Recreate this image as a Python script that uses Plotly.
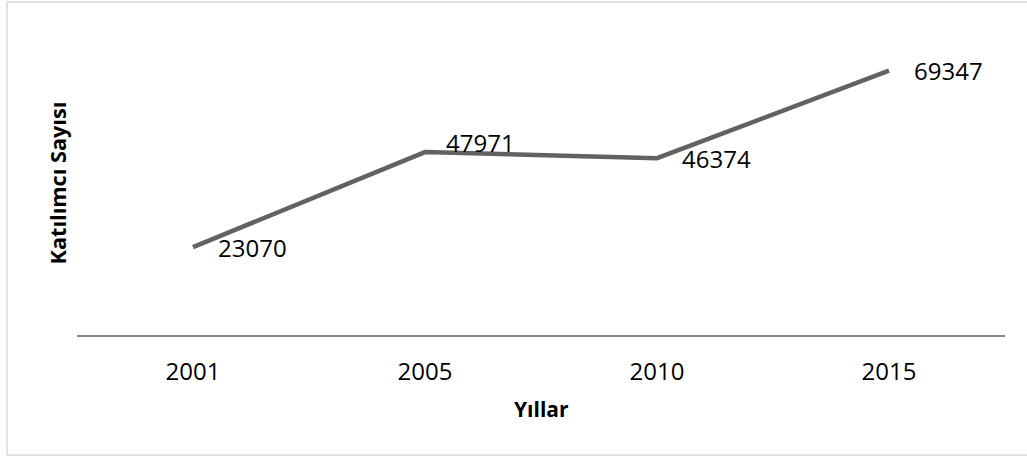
import plotly.graph_objects as go

years = ["2001", "2005", "2010", "2015"]
participants = [23070, 47971, 46374, 69347]
label_dx = [23, 19, 23, 23]
label_dy = [0, 10, 0, 0]

FONT = "Open Sans"

fig = go.Figure()
fig.add_trace(go.Scatter(
    x=years, y=participants, mode="lines",
    line=dict(color="#626262", width=4.5),
    hoverinfo="x+y", showlegend=False,
))

for i, (v, dx, dy) in enumerate(zip(participants, label_dx, label_dy)):
    fig.add_annotation(x=i, y=v, text=str(v), showarrow=False,
                       xanchor="left", yanchor="middle", xshift=dx, yshift=dy,
                       font=dict(family=FONT, size=24, color="#000000"))

fig.add_annotation(text="<b>Yıllar</b>", xref="paper", yref="paper", x=0.5, y=-0.243,
                   xanchor="center", yanchor="middle", showarrow=False,
                   font=dict(family=FONT, size=21, color="#000000"))
fig.add_annotation(text="<b>Katılımcı Sayısı</b>", xref="paper", yref="paper", x=-0.0205, y=0.5,
                   xanchor="center", yanchor="middle", showarrow=False, textangle=-90,
                   font=dict(family=FONT, size=21.7, color="#000000"))

# chart border
fig.add_shape(type="rect", xref="paper", yref="paper",
              x0=-0.0754, x1=1.03, y0=-0.3934, y1=1.0918,
              line=dict(color="#d9d9d9", width=1.5), fillcolor="rgba(0,0,0,0)", layer="below")

fig.update_layout(
    width=1027, height=459,
    margin=dict(l=77, r=22, t=30, b=124),
    paper_bgcolor="white", plot_bgcolor="white",
    font=dict(family=FONT, size=24, color="#000000"),
    xaxis=dict(type="category", range=[-0.5, 3.5], showgrid=False, zeroline=False,
               showline=True, linecolor="#868686", linewidth=1.5, ticks="",
               ticklabelstandoff=14, tickfont=dict(family=FONT, size=24, color="#000000")),
    yaxis=dict(range=[0, 80000], showgrid=False, zeroline=False, showline=False,
               showticklabels=False, ticks=""),
)

fig.write_html("out.html", config={"displayModeBar": False},
               post_script="document.body.style.margin='0';")
